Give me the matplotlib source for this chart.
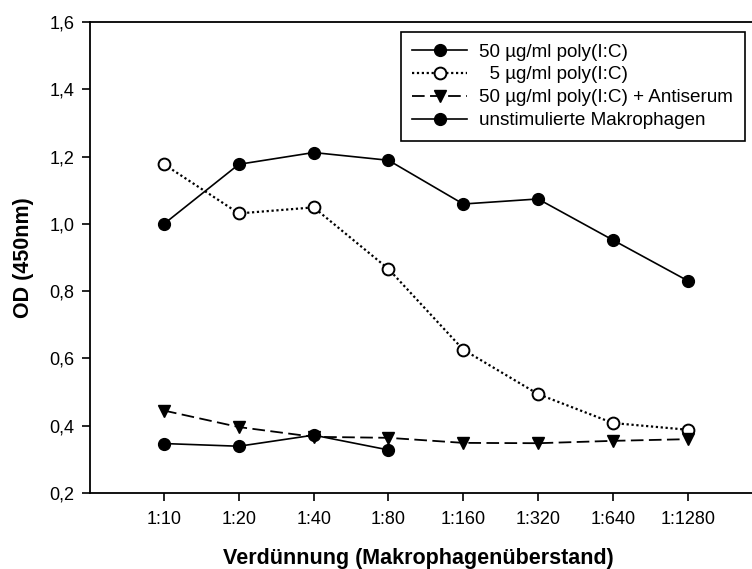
import matplotlib
matplotlib.use('Agg')
import matplotlib.pyplot as plt

plt.rcParams['font.family'] = ['Liberation Sans', 'DejaVu Sans']

dilutions = ["1:10", "1:20", "1:40", "1:80", "1:160", "1:320", "1:640", "1:1280"]
poly50 = [1.0, 1.177, 1.212, 1.189, 1.059, 1.074, 0.952, 0.831]
poly5 = [1.177, 1.031, 1.049, 0.866, 0.626, 0.494, 0.408, 0.388]
poly50_anti = [0.445, 0.396, 0.367, 0.364, 0.349, 0.348, 0.355, 0.36]
unstim = [0.347, 0.339, 0.372, 0.328]

x = list(range(1, len(dilutions) + 1))

fig = plt.figure(figsize=(7.52, 5.69), dpi=100)
ax = fig.add_axes([90/752, 1-493/569, 1-90/752, (493-22)/569])

ax.plot(x, poly50, color='black', lw=1.2, marker='o', ms=8.5, mfc='black',
        label="50 µg/ml poly(I:C)")
ax.plot(x, poly5, color='black', lw=1.6, ls=(0, (1, 1.2)), marker='o', ms=8.5,
        mfc='white', mew=1.4, label="  5 µg/ml poly(I:C)")
ax.plot(x, poly50_anti, color='black', lw=1.3, ls=(0, (7, 3)), marker='v', ms=8.5,
        mfc='black', label="50 µg/ml poly(I:C) + Antiserum")
ax.plot(x[:len(unstim)], unstim, color='black', lw=1.2, marker='o', ms=8.5,
        mfc='black', label="unstimulierte Makrophagen")

ax.set_xlim(0.01, 8.86)
ax.set_ylim(0.2, 1.6)
ax.set_xticks(x)
ax.set_xticklabels(dilutions)
ax.set_yticks([0.2, 0.4, 0.6, 0.8, 1.0, 1.2, 1.4, 1.6])
ax.set_yticklabels(["0,2", "0,4", "0,6", "0,8", "1,0", "1,2", "1,4", "1,6"])
ax.tick_params(axis='both', labelsize=13, direction='out', length=6, width=1.2)
ax.tick_params(axis='x', pad=7)
ax.tick_params(axis='y', pad=5)
ax.spines['right'].set_visible(False)
for s in ['left', 'bottom', 'top']:
    ax.spines[s].set_linewidth(1.3)

ax.set_xlabel("Verdünnung (Makrophagenüberstand)", fontsize=15.5, fontweight='bold')
ax.xaxis.label.set_va('center')
ax.xaxis.set_label_coords(0.4955, -0.14)
ax.set_ylabel("OD (450nm)", fontsize=15.5, fontweight='bold')
ax.yaxis.label.set(va='center', ha='center', rotation_mode='default')
ax.yaxis.set_label_coords(-0.1, 0.499)

leg = ax.legend(loc='upper left', bbox_to_anchor=(311/662, 461/471), fontsize=13.6,
                frameon=True, fancybox=False, edgecolor='black', framealpha=1,
                handlelength=2.9, handletextpad=0.65, borderpad=0.6,
                labelspacing=0.3, borderaxespad=0)
leg.get_frame().set_linewidth(1.2)

fig.savefig("out.png", dpi=100)
